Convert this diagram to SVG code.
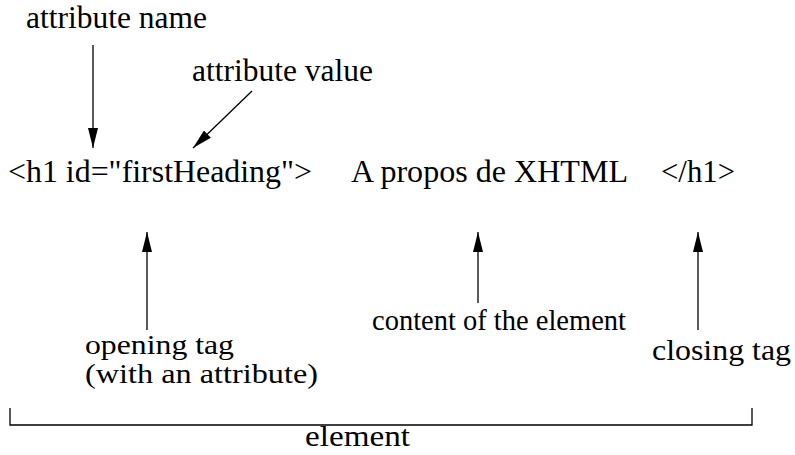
<svg xmlns="http://www.w3.org/2000/svg" width="795" height="455" viewBox="0 0 795 455">
<style>
.c{stroke:#000;stroke-width:1.3;fill:none}
</style>
<defs>
<marker id="ah" markerWidth="20" markerHeight="10" refX="20" refY="5" orient="auto" markerUnits="userSpaceOnUse">
<path d="M0,0 L20,5 L0,10 Z" fill="#000"/>
</marker>
</defs>
<rect width="795" height="455" fill="#fff"/>
<g id="code">
<text x="8" y="182" font-family="Liberation Serif" font-size="32" textLength="304" lengthAdjust="spacingAndGlyphs">&lt;h1 id="firstHeading"&gt;</text>
<text x="351" y="182" font-family="Liberation Serif" font-size="32" textLength="277" lengthAdjust="spacingAndGlyphs">A propos de XHTML</text>
<text x="661" y="182" font-family="Liberation Serif" font-size="32" textLength="74" lengthAdjust="spacingAndGlyphs">&lt;/h1&gt;</text>
</g>
<g id="attr-name"><text x="26" y="28" font-family="Liberation Serif" font-size="31" textLength="181" lengthAdjust="spacingAndGlyphs">attribute name</text></g>
<g id="attr-value"><text x="192" y="81" font-family="Liberation Serif" font-size="31" textLength="181" lengthAdjust="spacingAndGlyphs">attribute value</text></g>
<g id="opening-tag"><text x="85" y="354" font-family="Liberation Serif" font-size="28" textLength="149" lengthAdjust="spacingAndGlyphs">opening tag</text><text x="85" y="383" font-family="Liberation Serif" font-size="28" textLength="233" lengthAdjust="spacingAndGlyphs">(with an attribute)</text></g>
<g id="content"><text x="372" y="330" font-family="Liberation Serif" font-size="29" textLength="254" lengthAdjust="spacingAndGlyphs">content of the element</text></g>
<g id="closing-tag"><text x="652" y="360" font-family="Liberation Serif" font-size="29" textLength="139" lengthAdjust="spacingAndGlyphs">closing tag</text></g>
<g id="element"><text x="305" y="446" font-family="Liberation Serif" font-size="29" textLength="105" lengthAdjust="spacingAndGlyphs">element</text></g>
<g id="connectors">
<line class="c" x1="93" y1="45" x2="93" y2="148" marker-end="url(#ah)"/>
<line class="c" x1="252" y1="91" x2="193" y2="148" marker-end="url(#ah)"/>
<line class="c" x1="147" y1="330" x2="147" y2="232" marker-end="url(#ah)"/>
<line class="c" x1="478" y1="303" x2="478" y2="232" marker-end="url(#ah)"/>
<line class="c" x1="698" y1="330" x2="698" y2="232" marker-end="url(#ah)"/>
<path class="c" d="M10,408 V425 H752 V408"/>
</g>
</svg>
